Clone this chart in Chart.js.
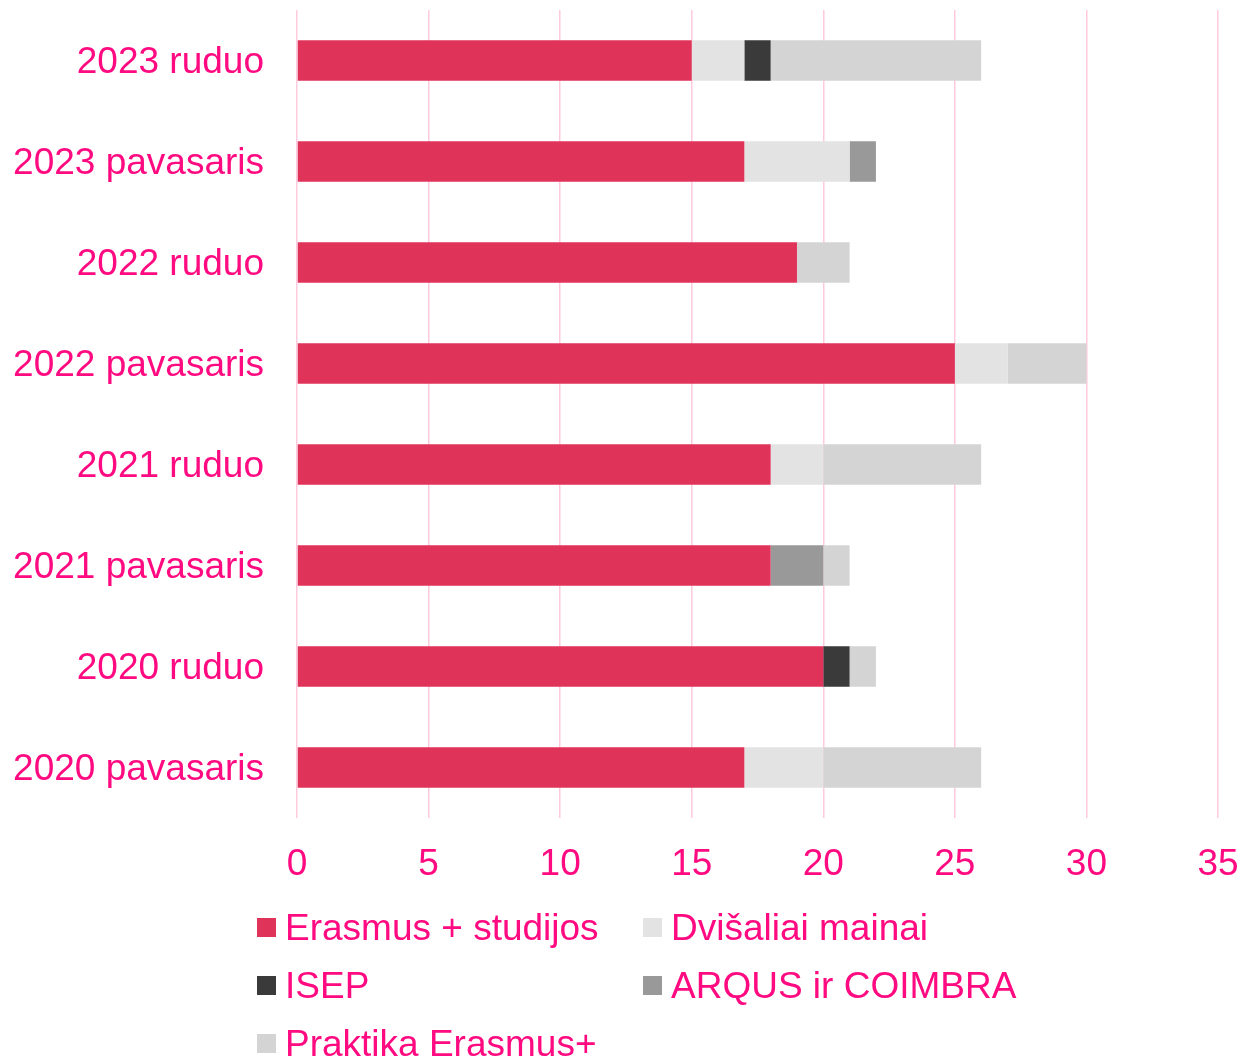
<!DOCTYPE html>
<html>
<head>
<meta charset="utf-8">
<script src="https://cdn.jsdelivr.net/npm/chart.js@4"></script>
<style>
  html, body { margin: 0; padding: 0; background: #fff; }
  #wrap { position: relative; width: 1242px; height: 1059px; overflow: hidden; }
  #legend { position: absolute; left: 257px; top: 906px; display: grid; grid-template-columns: 386px 400px; row-gap: 15px;
    font-family: "Liberation Sans", Arial, sans-serif; font-size: 37px; color: #ff0a80; }
  .item { display: flex; align-items: center; height: 43px; white-space: nowrap; }
  .box { width: 19px; height: 19px; margin-right: 9px; flex: none; }
</style>
</head>
<body>
<div id="wrap">
  <canvas id="c" width="1242" height="1059"></canvas>
  <div id="legend"></div>
</div>
<script>
const categories = ["2023 ruduo", "2023 pavasaris", "2022 ruduo", "2022 pavasaris", "2021 ruduo", "2021 pavasaris", "2020 ruduo", "2020 pavasaris"];
const seriesNames = ["Erasmus + studijos", "Dvišaliai mainai", "ISEP", "ARQUS ir COIMBRA", "Praktika Erasmus+"];
const erasmus   = [15, 17, 19, 25, 18, 18, 20, 17];
const dvisaliai = [2, 4, 0, 2, 2, 0, 0, 3];
const isep      = [1, 0, 0, 0, 0, 0, 1, 0];
const arqus     = [0, 1, 0, 0, 0, 2, 0, 0];
const praktika  = [8, 0, 2, 3, 6, 1, 1, 6];
const xTicks = [0, 5, 10, 15, 20, 25, 30, 35];
const colors = ["#e0335a", "#e3e3e3", "#3a3a3a", "#999999", "#d4d4d4"];
const textColor = "#ff0a80";
const font = "'Liberation Sans', Arial, sans-serif";

const values = [erasmus, dvisaliai, isep, arqus, praktika];
const datasets = seriesNames.map((n, i) => ({
  label: n,
  data: values[i],
  backgroundColor: colors[i],
  borderWidth: 0,
  barPercentage: 0.4,
  categoryPercentage: 1.0
}));

new Chart(document.getElementById('c'), {
  type: 'bar',
  data: { labels: categories, datasets },
  options: {
    indexAxis: 'y',
    responsive: false,
    animation: false,
    layout: { padding: { top: 10, right: 24, left: 0, bottom: 0 } },
    plugins: { legend: { display: false }, tooltip: { enabled: false } },
    scales: {
      x: {
        stacked: true, min: 0, max: 35,
        afterBuildTicks: s => { s.ticks = xTicks.map(v => ({ value: v })); },
        afterFit: s => { s.height = 241; s.paddingLeft = 0; s.paddingRight = 0; },
        grid: { color: "#ffc9de", lineWidth: 1.5, drawTicks: false },
        border: { display: false },
        ticks: { color: textColor, font: { family: font, size: 37 }, padding: 25, maxRotation: 0 }
      },
      y: {
        stacked: true,
        afterFit: s => { s.width = 297; s.paddingTop = 0; s.paddingBottom = 0; },
        grid: { display: false, drawTicks: false },
        border: { display: false },
        ticks: { color: textColor, font: { family: font, size: 37 }, padding: 33, labelOffset: 2 }
      }
    }
  }
});

const lg = document.getElementById('legend');
seriesNames.forEach((n, i) => {
  const d = document.createElement('div');
  d.className = 'item';
  d.innerHTML = '<span class="box" style="background:' + colors[i] + '"></span><span>' + n + '</span>';
  lg.appendChild(d);
});
</script>
</body>
</html>
